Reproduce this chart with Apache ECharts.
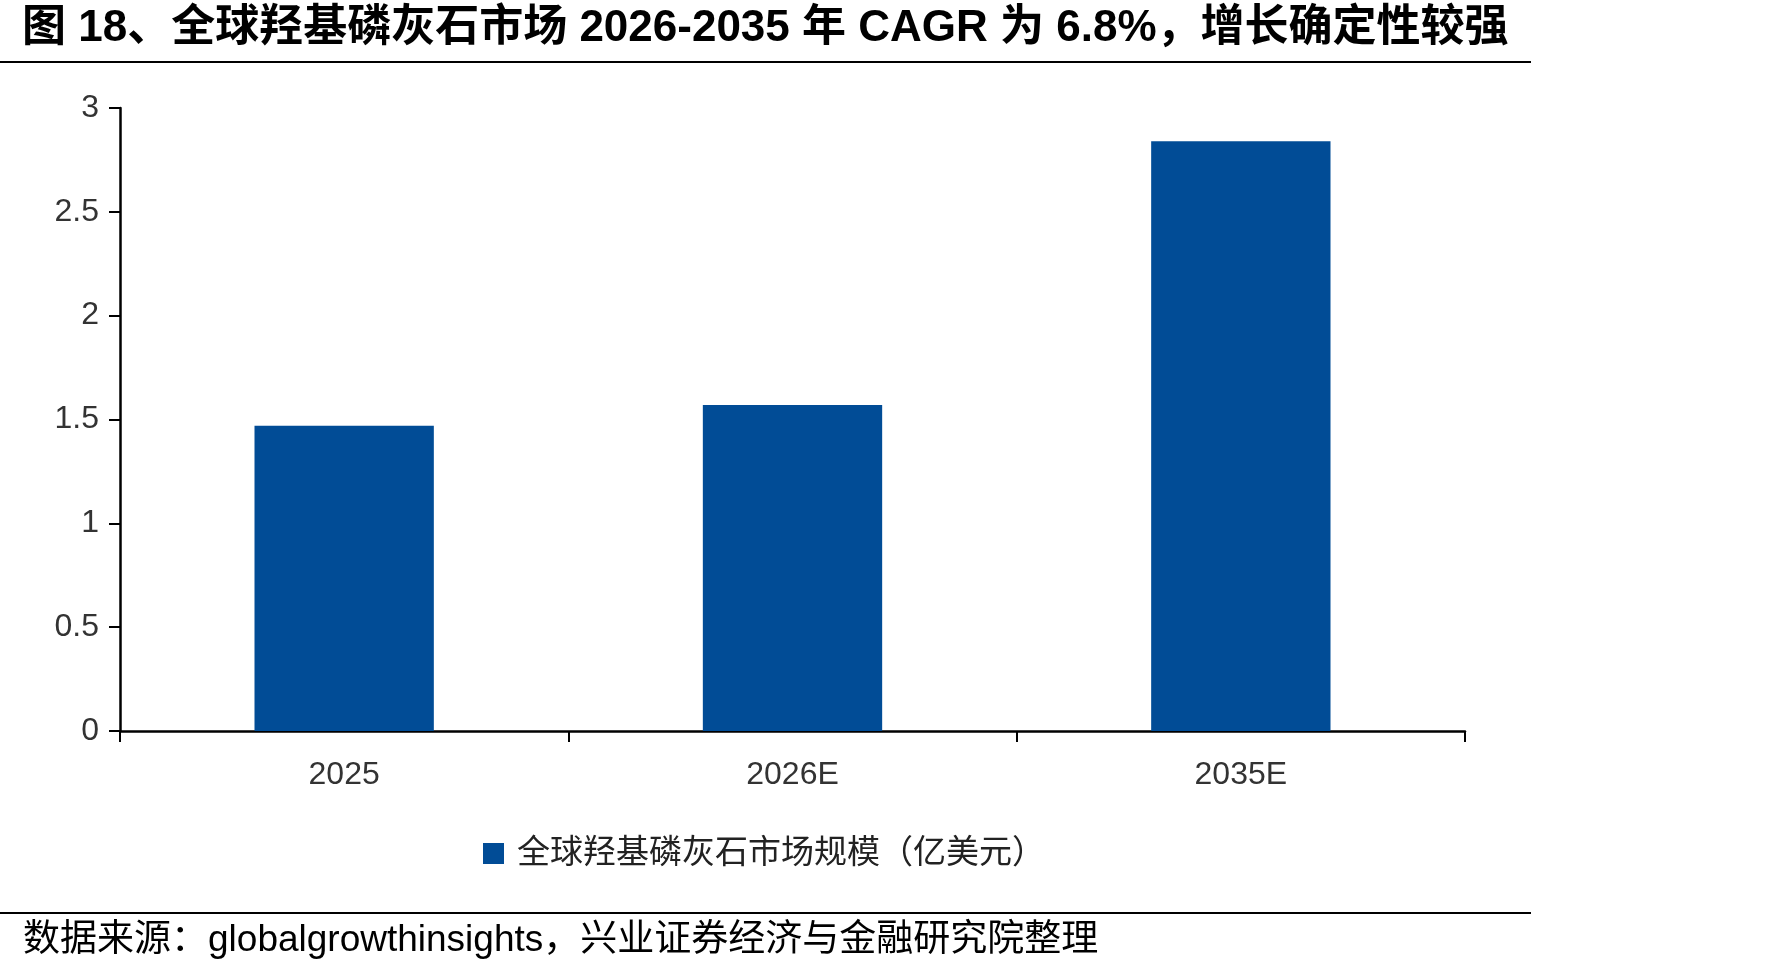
<!DOCTYPE html>
<html>
<head>
<meta charset="utf-8">
<script src="https://cdn.jsdelivr.net/npm/echarts@6/dist/echarts.min.js"></script>
<style>
  html, body { margin: 0; padding: 0; background: #fff; }
  #chart { width: 1771px; height: 975px; }
</style>
</head>
<body>
<div id="chart"></div>
<script>
// 图表数据
const categories = ['2025', '2026E', '2035E'];
const marketSize = [1.47, 1.57, 2.84]; // 全球羟基磷灰石市场规模（亿美元）
const seriesName = '全球羟基磷灰石市场规模（亿美元）';
const titleText = '图 18、全球羟基磷灰石市场 2026-2035 年 CAGR 为 6.8%，增长确定性较强';
const sourceText = '数据来源：globalgrowthinsights，兴业证券经济与金融研究院整理';

const fontFamily = '"Liberation Sans", "Noto Sans CJK SC", sans-serif';

const myChart = echarts.init(document.getElementById('chart'), null, { renderer: 'canvas' });

const option = {
    backgroundColor: '#fff',
    animation: false,
    title: [
        {
            text: titleText,
            left: 17,
            top: 2,
            textStyle: { fontSize: 44, fontWeight: 'bold', color: '#000', fontFamily: fontFamily }
        },
        {
            text: sourceText,
            left: 18,
            top: 917,
            textStyle: { fontSize: 37, fontWeight: 'normal', color: '#000', fontFamily: fontFamily }
        }
    ],
    // 标题下和来源上的横线
    graphic: [
        { type: 'line', shape: { x1: 0, y1: 62, x2: 1531, y2: 62 }, style: { stroke: '#000', lineWidth: 2 } },
        { type: 'line', shape: { x1: 0, y1: 913, x2: 1531, y2: 913 }, style: { stroke: '#000', lineWidth: 2 } }
    ],
    legend: {
        data: [seriesName],
        left: 478,
        top: 832,
        itemWidth: 21,
        itemHeight: 21,
        icon: 'rect',
        textStyle: { fontSize: 33, color: '#222', fontFamily: fontFamily, padding: [0, 0, 0, 8] }
    },
    grid: {
        left: 120,
        right: 306,
        top: 108,
        bottom: 244
    },
    xAxis: {
        type: 'category',
        data: categories,
        axisLine: { lineStyle: { color: '#000', width: 2.5 } },
        axisTick: { show: true, length: 11, lineStyle: { color: '#000', width: 2 } },
        axisLabel: { fontSize: 32, color: '#333', margin: 28, fontFamily: fontFamily }
    },
    yAxis: {
        type: 'value',
        min: 0,
        max: 3,
        interval: 0.5,
        axisLine: { show: true, lineStyle: { color: '#000', width: 2.5 } },
        axisTick: { show: true, length: 11, lineStyle: { color: '#000', width: 2 } },
        axisLabel: { fontSize: 32, color: '#333', margin: 21, fontFamily: fontFamily },
        splitLine: { show: false }
    },
    series: [
        {
            name: seriesName,
            type: 'bar',
            data: marketSize,
            barWidth: '40%',
            itemStyle: { color: '#014C96' }
        }
    ]
};

myChart.setOption(option, true);
</script>
</body>
</html>
